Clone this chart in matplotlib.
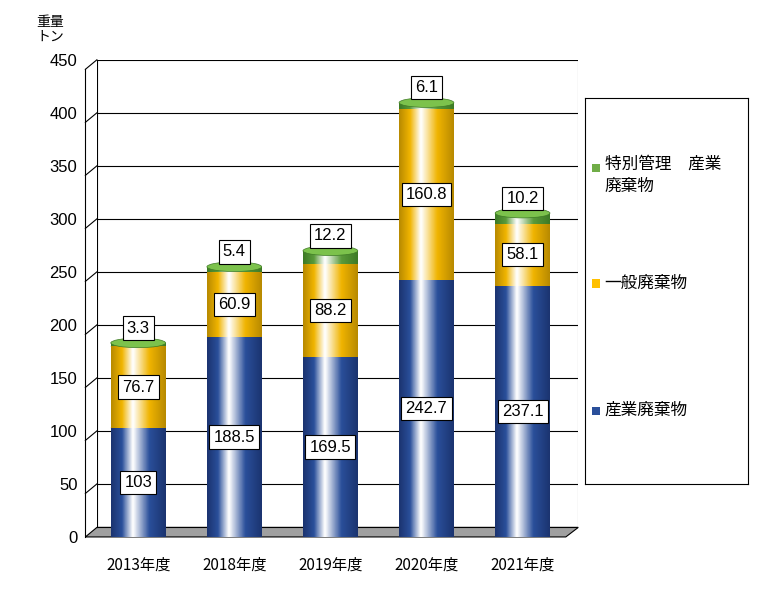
import numpy as np
import matplotlib
matplotlib.use("Agg")
import matplotlib.pyplot as plt
from matplotlib.patches import Ellipse, Rectangle, Polygon
from matplotlib.colors import LinearSegmentedColormap

plt.rcParams["font.family"] = ["Noto Sans CJK JP"]

categories = ["2013年度", "2018年度", "2019年度", "2020年度", "2021年度"]
industrial = [103, 188.5, 169.5, 242.7, 237.1]
general = [76.7, 60.9, 88.2, 160.8, 58.1]
special = [3.3, 5.4, 12.2, 6.1, 10.2]
series_names = ["産業廃棄物", "一般廃棄物", "特別管理　産業\n廃棄物"]
yticks = list(range(0, 451, 50))

base_cols = ["#2a4f9a", "#f0b400", "#5a9a3a"]
dark_cols = ["#1b3470", "#b88a00", "#3d7a25"]
top_cols = ["#7fa0d8", "#ffd84d", "#7cc24c"]

fig = plt.figure(figsize=(7.69, 5.92), dpi=100)
ax = fig.add_axes([0.126, 0.093, 0.626, 0.806])
ax.set_xlim(-0.43, 4.58)
ax.set_ylim(0, 450)
ax.set_yticks(yticks)
ax.set_yticklabels([str(v) for v in yticks], fontfamily="Liberation Sans", fontsize=12)
ax.set_xticks(range(len(categories)))
ax.set_xticklabels(categories, fontsize=11)
ax.tick_params(length=0, pad=14)
ax.tick_params(axis="x", pad=14)
for s in ax.spines.values():
    s.set_visible(False)
ax.plot([4.58, 4.58], [9, 450], color="#888888", lw=0.8)
for v in yticks:
    ax.plot([-0.43, 4.58], [v + 9, v + 9] if v == 0 else [v, v], color="black", lw=0.8)
# left wall diagonal and axis
ax.plot([-0.55, -0.55], [0, 441], color="black", lw=0.8, clip_on=False)
for v in yticks[1:]:
    ax.plot([-0.55, -0.43], [v - 9, v], color="black", lw=0.8, clip_on=False)
ax.plot([-0.43, -0.43], [9, 450], color="black", lw=0.8)
# floor
ax.add_patch(Polygon([[-0.55, 0], [4.45, 0], [4.58, 9], [-0.43, 9]], closed=True,
                     facecolor="#a0a0a0", edgecolor="black", lw=0.8, clip_on=False, zorder=1))

w = 0.57
eh = 9.0
def cyl(xc, y0, y1, i):
    cmap = LinearSegmentedColormap.from_list("c", [dark_cols[i], base_cols[i], "#ffffff", base_cols[i], dark_cols[i]],
                                             )
    grad = np.concatenate([np.linspace(0, 0.5, 40), np.linspace(0.5, 1, 60)])[None, :]
    im = ax.imshow(grad, cmap=cmap, aspect="auto", extent=[xc - w / 2, xc + w / 2, y0, y1],
                   zorder=3, interpolation="bilinear")
    clip = Polygon([[xc - w / 2, y0], [xc - w / 2, y1], [xc + w / 2, y1], [xc + w / 2, y0]], transform=ax.transData)
    im.set_clip_path(clip)
    e = Ellipse((xc, y0), w, eh, facecolor=dark_cols[i], edgecolor="none", zorder=2.9)
    ax.add_patch(e)

for k in range(len(categories)):
    vals = [industrial[k], general[k], special[k]]
    y = 0
    for i, v in enumerate(vals):
        cyl(k, y, y + v, i)
        y += v
    ax.add_patch(Ellipse((k, y), w, eh, facecolor=top_cols[2], edgecolor=dark_cols[2], lw=0.5, zorder=4))
    box = dict(boxstyle="square,pad=0.25", facecolor="white", edgecolor="black", lw=0.8)
    ax.text(k, industrial[k] / 2, f"{industrial[k]:g}", ha="center", va="center", fontsize=12,
            fontfamily="Liberation Sans", bbox=box, zorder=6)
    ax.text(k, industrial[k] + general[k] / 2, f"{general[k]:g}", ha="center", va="center", fontsize=12,
            fontfamily="Liberation Sans", bbox=box, zorder=6)
    ax.text(k, y + 14, f"{special[k]:g}", ha="center", va="center", fontsize=12,
            fontfamily="Liberation Sans", bbox=box, zorder=6)

fig.text(0.065, 0.975, "重量\nトン", ha="center", va="top", fontsize=10, linespacing=1.1)

# legend box
lax = fig.add_axes([585 / 769, 1 - 484 / 592, 163 / 769, 386 / 592])
lax.set_xlim(0, 1); lax.set_ylim(0, 1)
lax.set_xticks([]); lax.set_yticks([])
for s in lax.spines.values():
    s.set_linewidth(0.8)
ys = [0.19, 0.52, 0.82]
for i, name in enumerate(series_names):
    lax.add_patch(Rectangle((0.045, ys[i] - 0.012), 0.045, 0.022, facecolor=[base_cols[0], "#ffc000", "#70ad47"][i]))
    lax.text(0.12, ys[i] + (0.0 if i < 2 else 0.0), name, va="top" if i == 2 else "center",
             fontsize=12, linespacing=1.4, transform=lax.transData) if i < 2 else \
        lax.text(0.12, ys[i] + 0.03, name, va="top", fontsize=12, linespacing=1.4)

fig.savefig("out.png", dpi=100)
